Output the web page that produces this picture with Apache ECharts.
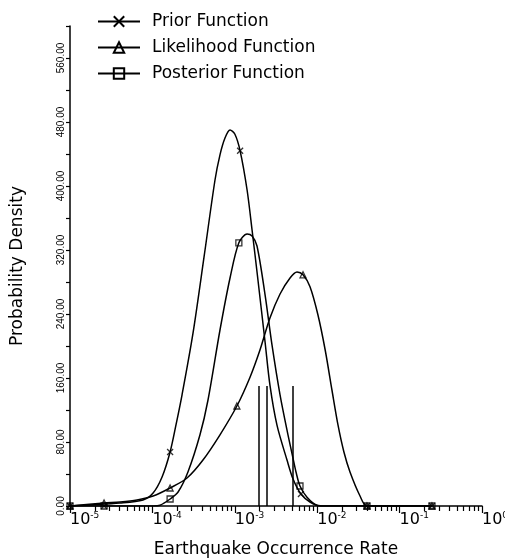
<!DOCTYPE html>
<html>
<head>
<meta charset="utf-8">
<script src="https://cdn.jsdelivr.net/npm/echarts@6/dist/echarts.min.js"></script>
<style>
html,body{margin:0;padding:0;background:#fff;}
#chart{width:505px;height:560px;}
</style>
</head>
<body>
<div id="chart"></div>
<script>
var seriesNames = ['Prior Function', 'Likelihood Function', 'Posterior Function'];

// curves, [rate, density]
var priorCurve = [
	[1.00e-5, 0], [4.05e-5, 3.75], [7.69e-5, 7.5], [1.02e-4, 16.25], [1.31e-4, 36.25],
	[1.64e-4, 67.5], [1.93e-4, 101], [2.29e-4, 139], [3.11e-4, 216], [4.23e-4, 311],
	[5.75e-4, 407.5], [6.61e-4, 439], [7.60e-4, 460], [8.75e-4, 470], [1.00e-3, 465],
	[1.16e-3, 444], [1.41e-3, 395], [1.62e-3, 345], [1.91e-3, 282.5], [2.33e-3, 205],
	[2.67e-3, 151], [3.25e-3, 101], [4.30e-3, 57.5], [5.08e-3, 34], [6.35e-3, 15],
	[8.18e-3, 5], [1.08e-2, 0], [4.02e-2, 0], [0.247, 0]
];
var likeCurve = [
	[1.00e-5, 0], [2.59e-5, 3.75], [4.05e-5, 5], [6.50e-5, 7.5], [1.02e-4, 12.5],
	[1.64e-4, 22.5], [2.63e-4, 35], [4.11e-4, 57.5], [6.61e-4, 89], [1.06e-3, 125],
	[1.53e-3, 161], [2.02e-3, 195], [2.67e-3, 235], [3.54e-3, 265], [4.68e-3, 285],
	[5.69e-3, 292.5], [6.73e-3, 289], [8.18e-3, 274], [1.02e-2, 239], [1.25e-2, 195],
	[1.51e-2, 145], [1.79e-2, 101], [2.11e-2, 67.5], [2.50e-2, 42.5], [3.31e-2, 12.5],
	[4.02e-2, 0], [0.247, 0]
];
var postCurve = [
	[1.00e-5, 0], [2.59e-5, 0], [1.02e-4, 0], [1.24e-4, 1], [1.64e-4, 8.75],
	[2.05e-4, 17.5], [2.70e-4, 42.5], [3.78e-4, 89], [4.73e-4, 132.5], [6.61e-4, 220],
	[8.75e-4, 285], [1.12e-3, 329], [1.41e-3, 340], [1.62e-3, 337.5], [1.86e-3, 325],
	[2.33e-3, 264], [2.83e-3, 201], [3.54e-3, 139], [4.42e-3, 89], [5.08e-3, 60],
	[5.53e-3, 42.5], [6.18e-3, 25], [7.52e-3, 11], [9.95e-3, 1], [1.25e-2, 0],
	[4.02e-2, 0], [0.247, 0]
];

// plotted symbols
var priorMarkX = [1e-5, 2.59e-5, 1.64e-4, 1.16e-3, 6.35e-3, 4.02e-2, 0.247];
var priorMarkY = [0, 0, 67.5, 444, 15, 0, 0];
var likeMarkX = [1e-5, 2.59e-5, 1.64e-4, 1.06e-3, 6.73e-3, 4.02e-2, 0.247];
var likeMarkY = [0, 3.75, 22.5, 125, 289, 0, 0];
var postMarkX = [1e-5, 2.59e-5, 1.64e-4, 1.12e-3, 6.18e-3, 4.02e-2, 0.247];
var postMarkY = [0, 0, 8.75, 329, 25, 0, 0];

// vertical bars
var barRates = [1.96e-3, 2.46e-3, 5.09e-3];
var barHeights = [150, 150, 150];

var font = 'DejaVu Sans';
var symbols = ['path://M0,0L10,10M0,10L10,0', 'triangle', 'rect'];
var curves = [priorCurve, likeCurve, postCurve];
var marks = [[priorMarkX, priorMarkY], [likeMarkX, likeMarkY], [postMarkX, postMarkY]];

var chart = echarts.init(document.getElementById('chart'));
var series = [];
seriesNames.forEach(function(name, i) {
	series.push({
		name: name,
		type: 'line',
		data: curves[i],
		smooth: 0.3,
		showSymbol: false,
		symbol: symbols[i],
		lineStyle: {color: '#000', width: 1.5},
		itemStyle: {color: 'rgba(0,0,0,0)', borderColor: '#000', borderWidth: 1.2},
		z: 3
	});
	series.push({
		name: name + ' marks',
		type: 'scatter',
		data: marks[i][0].map(function(x, k) { return [x, marks[i][1][k]]; }),
		symbol: symbols[i],
		symbolSize: 6,
		itemStyle: {color: 'rgba(0,0,0,0)', borderColor: '#000', borderWidth: 1.3},
		z: 4
	});
});
series[0].markLine = {
	silent: true,
	symbol: 'none',
	label: {show: false},
	lineStyle: {color: '#000', width: 1.5, type: 'solid'},
	data: barRates.map(function(r, k) { return [{coord: [r, 0]}, {coord: [r, barHeights[k]]}]; })
};

var option = {
	animation: false,
	backgroundColor: '#fff',
	grid: {left: 70, right: 23, top: 26, bottom: 54, containLabel: false, outerBoundsMode: 'none'},
	legend: {
		data: seriesNames,
		orient: 'vertical',
		left: 92,
		top: 8,
		itemWidth: 42,
		itemHeight: 13,
		itemGap: 9,
		textStyle: {fontSize: 17, color: '#000', fontFamily: font, padding: [0, 0, 0, 7]}
	},
	xAxis: {
		type: 'log',
		logBase: 10,
		min: 1e-5,
		max: 1,
		splitNumber: 5,
		axisLine: {lineStyle: {color: '#000', width: 1.5}},
		axisTick: {length: 7, lineStyle: {color: '#000', width: 1.2}},
		minorTick: {show: true, splitNumber: 9, length: 5, lineStyle: {color: '#000', width: 1.2}},
		splitLine: {show: false},
		axisLabel: {
			align: 'left',
			margin: 5,
			formatter: function(v) {
				return '{b|10}{s|' + Math.round(Math.log10(v)) + '}';
			},
			rich: {
				b: {fontSize: 16, fontFamily: font, color: '#000', lineHeight: 18},
				s: {fontSize: 9, fontFamily: font, color: '#000', verticalAlign: 'top', lineHeight: 10}
			}
		},
		name: 'Earthquake Occurrence Rate',
		nameLocation: 'middle',
		nameGap: 35,
		nameTextStyle: {fontSize: 17, color: '#000', fontFamily: font}
	},
	yAxis: {
		type: 'value',
		min: 0,
		max: 600,
		interval: 80,
		axisLine: {show: true, lineStyle: {color: '#000', width: 1.5}},
		axisTick: {show: true, length: 4, lineStyle: {color: '#000', width: 1.2}},
		minorTick: {show: true, splitNumber: 2, length: 4, lineStyle: {color: '#000', width: 1.2}},
		splitLine: {show: false},
		axisLabel: {
			rotate: 90,
			margin: 4,
			showMaxLabel: false,
			fontSize: 10,
			color: '#000',
			fontFamily: 'Liberation Sans',
			formatter: function(v) { return v.toFixed(2); }
		},
		name: 'Probability Density',
		nameLocation: 'middle',
		nameRotate: 90,
		nameGap: 44,
		nameTextStyle: {fontSize: 17, color: '#000', fontFamily: font}
	},
	series: series
};
chart.setOption(option);
</script>
</body>
</html>
